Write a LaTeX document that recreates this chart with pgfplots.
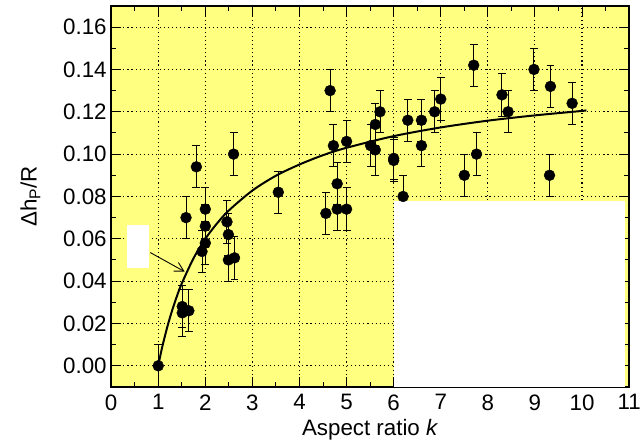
\documentclass[border=0pt]{standalone}
\usepackage{pgfplots}
\pgfplotsset{compat=1.18}
\usepackage{pgfplotstable}
\usepackage{fontspec}
\setmainfont{Liberation Sans}
\usetikzlibrary{arrows.meta}
\definecolor{bgyellow}{RGB}{255,255,128}
\pgfplotsset{layers/mylayers/.define layer set={axis background,axis grid,main,axis ticks,axis lines,axis tick labels,axis descriptions,axis foreground}{}}

\pgfplotstableread{
x y e
1.00 0.000 0.010
1.51 0.028 0.010
1.51 0.025 0.011
1.65 0.026 0.010
1.59 0.070 0.010
1.81 0.094 0.010
2.00 0.074 0.010
2.00 0.066 0.010
2.00 0.058 0.010
1.93 0.054 0.010
2.46 0.068 0.010
2.49 0.062 0.010
2.49 0.050 0.010
2.62 0.051 0.010
2.60 0.100 0.010
3.55 0.082 0.010
4.65 0.130 0.010
4.72 0.104 0.010
5.00 0.106 0.010
4.80 0.086 0.010
4.56 0.072 0.010
4.80 0.074 0.010
5.00 0.074 0.010
5.51 0.104 0.010
5.61 0.102 0.012
5.61 0.114 0.010
5.71 0.120 0.010
6.00 0.098 0.010
6.00 0.097 0.010
6.20 0.080 0.010
6.30 0.116 0.010
6.59 0.116 0.010
6.59 0.104 0.010
6.87 0.120 0.010
7.00 0.126 0.010
7.70 0.142 0.010
8.30 0.128 0.010
8.43 0.120 0.010
8.98 0.140 0.010
9.33 0.132 0.010
9.79 0.124 0.010
7.50 0.090 0.010
7.76 0.100 0.010
9.31 0.090 0.010
}\datatab

\pgfplotstableread{
x y
1.00 0.0000
1.05 0.0054
1.10 0.0103
1.20 0.0190
1.30 0.0265
1.40 0.0331
1.50 0.0389
1.75 0.0508
2.00 0.0600
2.25 0.0673
2.50 0.0734
3.00 0.0828
3.50 0.0898
4.00 0.0951
4.50 0.0995
5.00 0.1030
6.00 0.1085
7.00 0.1126
8.00 0.1158
9.00 0.1183
10.00 0.1204
10.07 0.1206
}\curvetab

\begin{document}
\begin{tikzpicture}
\begin{axis}[
 set layers=mylayers,
 width=522pt, height=384pt, scale only axis,
 xmin=0, xmax=11, ymin=-0.01, ymax=0.17,
 xtick={0,1,2,3,4,5,6,7,8,9,10,11},
 ytick={0,0.02,0.04,0.06,0.08,0.10,0.12,0.14,0.16},
 minor x tick num=1, minor y tick num=1,
 tick align=inside, tick pos=both,
 major tick length=10pt, minor tick length=5pt,
 tick style={black,line width=1pt},
 axis line style={line width=1.5pt},
 axis background/.style={fill=bgyellow},
 grid=major,
 major grid style={black, line width=1.1pt, dash pattern=on 1.1pt off 3pt},
 tick label style={font=\fontsize{22.5}{26}\selectfont},
 label style={font=\fontsize{22.5}{26}\selectfont},
 /pgf/number format/assume math mode=true,
 yticklabel style={xshift=-1pt, /pgf/number format/.cd, fixed, fixed zerofill, precision=2},
 xticklabel style={yshift=-4pt},
 xlabel={Aspect ratio \textit{k}},
 ylabel={Δh\textsubscript{P}/R},
 xlabel style={at={(axis description cs:0.5,-0.112)},anchor=center},
 ylabel style={at={(axis description cs:-0.156,0.5)},anchor=center},
 clip=false,
]
\addplot[only marks, mark=*, mark size=5.5pt, black,
  error bars/.cd, y dir=both, y explicit,
  error bar style={line width=1pt, black},
  error mark options={rotate=90, mark size=4pt, line width=1pt, black}]
  table[x=x,y=y,y error=e]{\datatab};
\addplot[black, line width=2pt, smooth, no marks] table[x=x,y=y]{\curvetab};
\fill[white] (axis cs:6,-0.01) rectangle (axis cs:10.92,0.078);
\fill[white] (axis cs:0.33,0.046) rectangle (axis cs:0.80,0.0665);
\draw[line width=0.9pt, -{Straight Barb[length=9pt,width=10pt]}] (axis cs:0.83,0.0535) -- (axis cs:1.56,0.0445);
\path (axis description cs:-0.2146,-0.15625) rectangle (axis description cs:1.0153,1.0156);
\end{axis}
\end{tikzpicture}
\end{document}
